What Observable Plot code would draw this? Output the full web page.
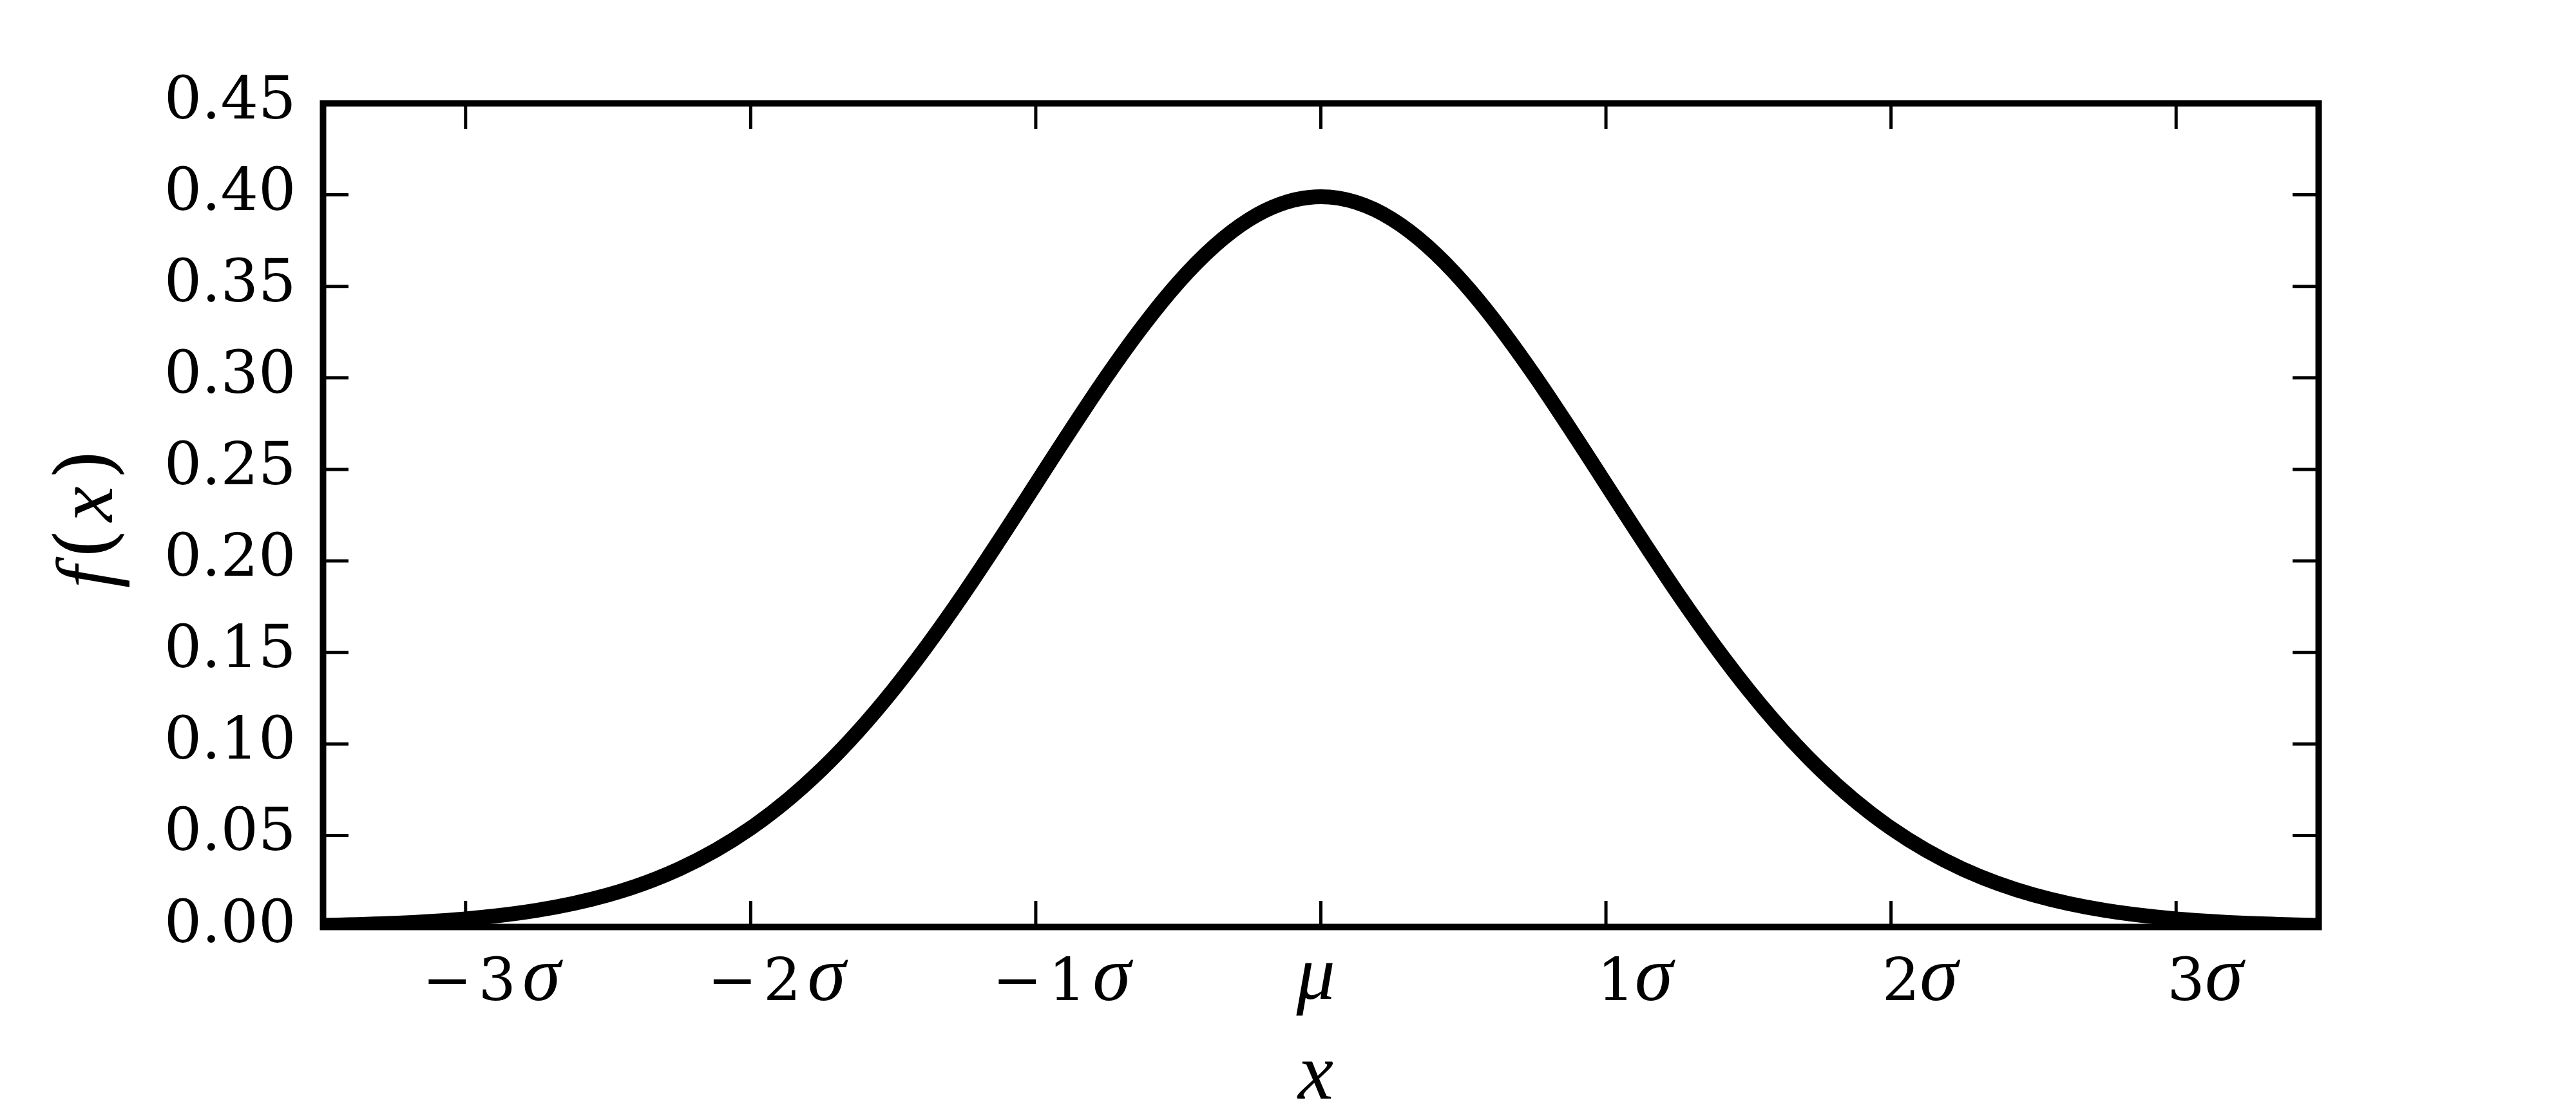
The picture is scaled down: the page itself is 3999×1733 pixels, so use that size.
<!DOCTYPE html>
<html><head><meta charset="utf-8">
<script src="https://cdn.jsdelivr.net/npm/d3@7"></script>
<script src="https://cdn.jsdelivr.net/npm/@observablehq/plot@0.6"></script>
<style>html,body{margin:0;padding:0;background:#fff;overflow:hidden}</style>
</head><body><div id="chart"></div>
<script>
// Curve samples (x in units of sigma from mu, f(x))
const curveX = [-3.5,-3.25,-3,-2.75,-2.5,-2.25,-2,-1.75,-1.5,-1.25,-1,-0.75,-0.5,-0.25,0,
                0.25,0.5,0.75,1,1.25,1.5,1.75,2,2.25,2.5,2.75,3,3.25,3.5];
const curveY = [0.00087,0.00203,0.00443,0.00909,0.01753,0.03174,0.05399,0.08628,0.12952,0.18265,0.24197,0.30114,0.35207,0.38667,0.39894,
                0.38667,0.35207,0.30114,0.24197,0.18265,0.12952,0.08628,0.05399,0.03174,0.01753,0.00909,0.00443,0.00203,0.00087];
const sigmaTickValues = [-3,-2,-1,1,2,3];
const sigmaTickLabels = ["−3σ","−2σ","−1σ","1σ","2σ","3σ"];
const muTickValues = [0];
const muTickLabels = ["μ"];
const yTickValues = [0,0.05,0.10,0.15,0.20,0.25,0.30,0.35,0.40,0.45];
const yTickLabels = ["0.00","0.05","0.10","0.15","0.20","0.25","0.30","0.35","0.40","0.45"];
const xLabel = "x";
const yLabel = "f(x)";

const data = curveX.map((x, i) => ({x, y: curveY[i]}));
const xTicksAll = sigmaTickValues.concat(muTickValues);

const W = 3999, H = 1733, mL = 501, mR = 400, mT = 160, mB = 294;
const innerW = W - mL - mR, innerH = H - mT - mB;
const tickLen = 40;
const font = "DejaVu Serif";

const chart = Plot.plot({
  width: W, height: H,
  marginLeft: mL, marginRight: mR, marginTop: mT, marginBottom: mB,
  x: {domain: [-3.5, 3.5], axis: null},
  y: {domain: [0, 0.45], axis: null},
  style: {background: "white", fontFamily: font, color: "black"},
  marks: [
    Plot.line(data, {x: "x", y: "y", stroke: "black", strokeWidth: 23, curve: "natural", clip: true, strokeLinejoin: "round"}),
    Plot.tickX(xTicksAll, {x: d => d, insetTop: innerH - tickLen, stroke: "black", strokeWidth: 5}),
    Plot.tickX(xTicksAll, {x: d => d, insetBottom: innerH - tickLen, stroke: "black", strokeWidth: 5}),
    Plot.tickY(yTickValues, {y: d => d, insetRight: innerW - tickLen, stroke: "black", strokeWidth: 5}),
    Plot.tickY(yTickValues, {y: d => d, insetLeft: innerW - tickLen, stroke: "black", strokeWidth: 5}),
    Plot.frame({stroke: "black", strokeWidth: 10}),
    Plot.text(yTickValues, {y: d => d, text: (d, i) => yTickLabels[i], frameAnchor: "left", textAnchor: "end", lineAnchor: "bottom", dx: -42, dy: 23, fontSize: 92, fill: "black"}),
    Plot.text(sigmaTickValues, {x: d => d, text: (d, i) => sigmaTickLabels[i], frameAnchor: "bottom", textAnchor: "middle", lineAnchor: "bottom", dx: 45, dy: 113, fontSize: 92, fill: "black"}),
    Plot.text(muTickValues, {x: d => d, text: (d, i) => muTickLabels[i], frameAnchor: "bottom", textAnchor: "middle", lineAnchor: "bottom", dx: -8, dy: 111, fontSize: 92, fill: "black"}),
    Plot.text([xLabel], {text: d => d, frameAnchor: "bottom", textAnchor: "middle", lineAnchor: "bottom", dx: -8, dy: 266, fontSize: 124, fill: "black"}),
    Plot.text([yLabel], {text: d => d, frameAnchor: "left", textAnchor: "middle", lineAnchor: "bottom", rotate: -90, dx: -328, fontSize: 124, fill: "black"})
  ]
});

document.getElementById("chart").append(chart);

// Render math-style labels: letters italic (Times-like), digits and signs upright
const letterRe = /[A-Za-zα-ωμσ]/;
d3.select(chart).selectAll("text").each(function() {
  const s = this.textContent;
  if (!letterRe.test(s)) return;
  const parentSize = parseFloat(window.getComputedStyle(this).fontSize);
  const el = d3.select(this);
  el.text(null);
  if (s.length > 2) el.attr("letter-spacing", 10);
  const parts = s.match(/([A-Za-zα-ωμσ]+|[^A-Za-zα-ωμσ]+)/g) || [];
  for (const p of parts) {
    const t = el.append("tspan").text(p);
    if (letterRe.test(p)) {
      t.attr("font-style", "italic").attr("font-family", "Liberation Serif");
      if (parentSize < 110) t.attr("font-size", 120);
    }
  }
});
</script>
</body></html>
